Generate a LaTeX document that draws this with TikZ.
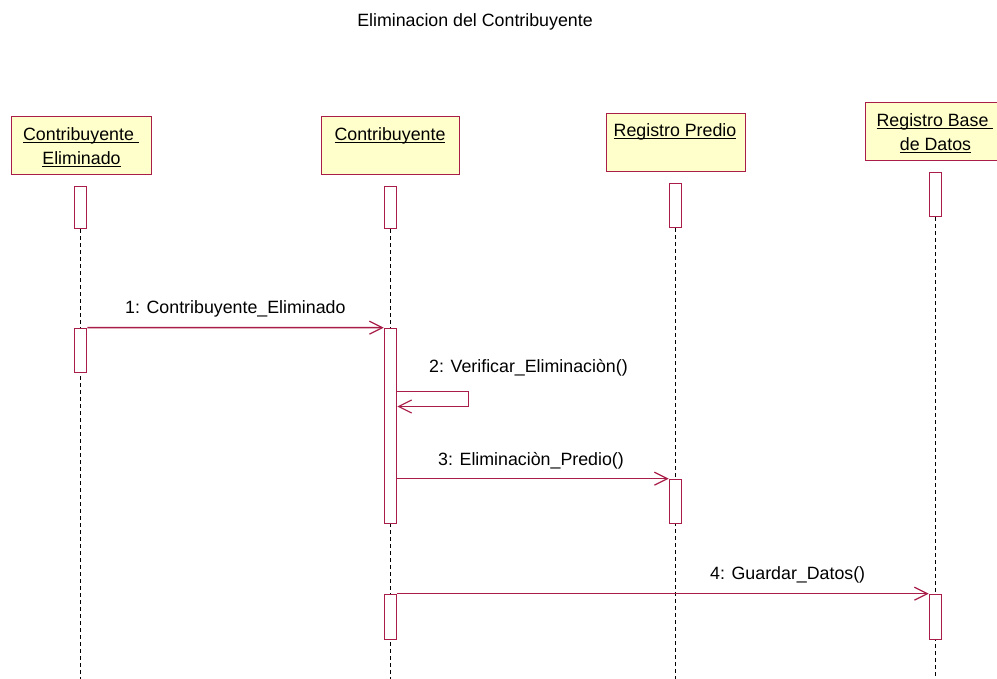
\documentclass[tikz,border=0pt]{standalone}
\usepackage{fontspec}
\setmainfont{Liberation Sans}
\usetikzlibrary{arrows.meta}
\definecolor{umlred}{RGB}{168,30,72}
\definecolor{umlfill}{RGB}{255,255,204}
\newsavebox\ulsave
\newcommand\ulbox[1]{\sbox\ulsave{#1}\rlap{\rule[-2bp]{\wd\ulsave}{1.2bp}}\usebox\ulsave}
\tikzset{
  txt/.style={inner sep=0pt, anchor=base, font=\fontsize{17.8bp}{21bp}\selectfont},
  msglbl/.style={inner sep=0pt, anchor=base west, font=\fontsize{17.8bp}{21bp}\selectfont},
  hdr/.style={draw=umlred, fill=umlfill, line width=1.7bp, inner sep=0pt},
  act/.style={draw=umlred, fill=white, line width=1.6bp, inner sep=0pt, minimum width=12bp},
  life/.style={draw=black, line width=1.6bp, dash pattern=on 4bp off 3bp},
  msg/.style={draw=umlred, line width=1.5bp, -{Straight Barb[length=13bp,width=13bp,line width=1.2bp]}},
}
\begin{document}
\begin{tikzpicture}[x=1bp,y=-1bp]
\clip (0,0) rectangle (997,679);
\fill[white] (0,0) rectangle (997,679);
% title
\node[txt] (title) at (475,27) {Eliminacion del Contribuyente};
% header boxes
\node[hdr, minimum width=140bp, minimum height=58bp] (hA) at (81.5,145.5) {};
\node[hdr, minimum width=138bp, minimum height=58bp] (hB) at (390.5,145.5) {};
\node[hdr, minimum width=139bp, minimum height=58bp] (hC) at (676,142.5) {};
\node[hdr, minimum width=142bp, minimum height=58bp] (hD) at (936.5,131.5) {};
\node[txt] (hA1) at (81,141) {\ulbox{Contribuyente\ }};
\node[txt] (hA2) at (81.5,165) {\ulbox{Eliminado}};
\node[txt] (hB1) at (390,141) {\ulbox{Contribuyente}};
\node[txt] (hC1) at (675,137) {\ulbox{Registro Predio}};
\node[txt] (hD1) at (935,127) {\ulbox{Registro Base\ }};
\node[txt] (hD2) at (935.5,151) {\ulbox{de Datos}};
% lifeline ends
\coordinate (eA) at (80.5,679);
\coordinate (eB) at (390.5,679);
\coordinate (eC) at (675.5,679);
\coordinate (eD) at (935.5,679);
% top activation boxes
\node[act, minimum height=42bp] (aA0) at (80.5,207.5) {};
\node[act, minimum height=42bp] (aB0) at (390.5,207.5) {};
\node[act, minimum height=44bp] (aC0) at (675.5,205.5) {};
\node[act, minimum height=44bp] (aD0) at (935.5,194.5) {};
% lifelines
\draw[life] (aA0.south) -- (eA);
\draw[life] (aB0.south) -- (eB);
\draw[life] (aC0.south) -- (eC);
\draw[life] (aD0.south) -- (eD);
% activations
\node[act, minimum height=44bp] (aA1) at (80.5,350.5) {};
\node[act, minimum height=195bp] (aB1) at (390.5,426) {};
\node[act, minimum height=44bp] (aC1) at (675.5,501.5) {};
\node[act, minimum height=45bp] (aB2) at (390.5,617) {};
\node[act, minimum height=45bp] (aD1) at (935.5,617) {};
% messages
\draw[msg] (aA1.north east) -- (aB1.north west);
\node[msglbl] (m1) at (125,313) {1: Contribuyente\_Eliminado};
\coordinate (s2a) at (468.5,391.5);
\coordinate (s2b) at (468.5,406.5);
\draw[msg] (aB1.east |- s2a) -- (s2a) -- (s2b) -- (aB1.east |- s2b);
\node[msglbl] (m2) at (429,372) {2: Verificar\_Eliminaciòn()};
\draw[msg] (aB1.east |- aC1.north) -- (aC1.north west);
\node[msglbl] (m3) at (438,465) {3: Eliminaciòn\_Predio()};
\draw[msg] (aB2.north east) -- (aD1.north west);
\node[msglbl] (m4) at (710,579) {4: Guardar\_Datos()};
\end{tikzpicture}
\end{document}
